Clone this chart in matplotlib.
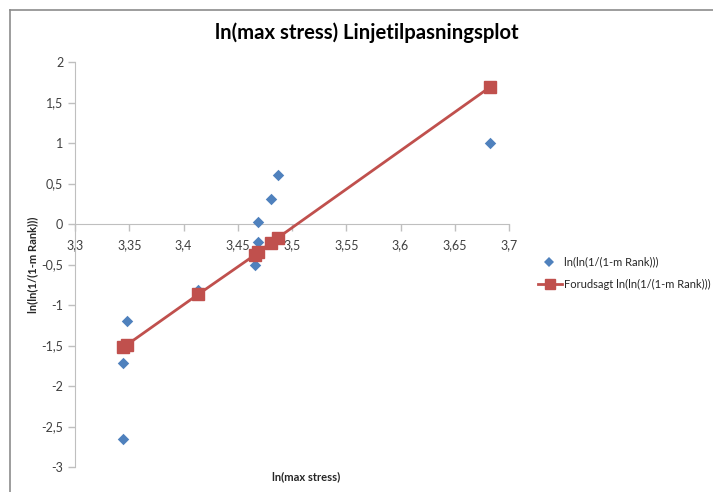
import matplotlib
matplotlib.use("Agg")
import matplotlib.pyplot as plt
from matplotlib.ticker import FuncFormatter, MultipleLocator
from matplotlib.lines import Line2D

plt.rcParams['font.family'] = ['Lato', 'DejaVu Sans']

# Observed data
x_obs = [3.6825, 3.487, 3.4806, 3.4687, 3.4687, 3.466, 3.4134, 3.348, 3.3442, 3.3442]
y_obs = [1.00, 0.60, 0.31, 0.03, -0.22, -0.51, -0.81, -1.20, -1.72, -2.65]
# Predicted (fitted line)
x_pred = [3.6825, 3.487, 3.4806, 3.4687, 3.466, 3.4134, 3.348, 3.3442]
y_pred = [1.69, -0.17, -0.23, -0.35, -0.38, -0.87, -1.49, -1.52]

title = "ln(max stress) Linjetilpasningsplot"
xlabel = "ln(max stress)"
ylabel = "ln(ln(1/(1-m Rank)))"
leg_obs = "ln(ln(1/(1-m Rank)))"
leg_pred = "Forudsagt ln(ln(1/(1-m Rank)))"

W, H = 713, 492
fig = plt.figure(figsize=(W/100, H/100), dpi=100)

# outer chart frame (top and left visible)
fig.add_artist(Line2D([10/W, 1.0], [1-10/H, 1-10/H], transform=fig.transFigure, color='#8c8c8c', lw=1.2))
fig.add_artist(Line2D([10/W, 10/W], [0, 1-10/H], transform=fig.transFigure, color='#8c8c8c', lw=1.2))

ax = fig.add_axes([75/W, 1-467/H, (509-75)/W, (467-62)/H])
ax.set_xlim(3.3, 3.7)
ax.set_ylim(-3, 2)

ax.scatter(x_obs, y_obs, marker='D', s=34, color='#4F81BD', zorder=3, linewidths=0)
ax.plot(x_pred, y_pred, color='#C0504D', lw=2, marker='s', ms=8, zorder=4)

axis_col = '#BFBFBF'
for s in ['top', 'right']:
    ax.spines[s].set_visible(False)
ax.spines['left'].set_color(axis_col)
ax.spines['bottom'].set_color(axis_col)
ax.spines['bottom'].set_position(('data', 0))

ax.xaxis.set_major_locator(MultipleLocator(0.05))
ax.yaxis.set_major_locator(MultipleLocator(0.5))
fmt = FuncFormatter(lambda v, p: ('%g' % round(v, 2)).replace('.', ','))
ax.xaxis.set_major_formatter(fmt)
ax.yaxis.set_major_formatter(fmt)
ax.tick_params(axis='both', colors=axis_col, labelcolor='#404040', labelsize=9, length=5, width=1)
ax.tick_params(axis='x', pad=6)

fig.text(367/W, 1-33/H, title, ha='center', va='center', fontsize=14.6, fontweight='bold', color='#000000')
fig.text(306/W, 1-477/H, xlabel, ha='center', va='center', fontsize=8, fontweight='bold', color='#262626')
fig.text(33/W, 1-265/H, ylabel, ha='center', va='center', rotation=90, fontsize=8, fontweight='bold', color='#262626')

# legend
fig.add_artist(Line2D([549/W], [1-262/H], transform=fig.transFigure, marker='D', ms=5, color='#4F81BD', lw=0, markeredgewidth=0))
fig.text(564/W, 1-262/H, leg_obs, ha='left', va='center', fontsize=8, color='#262626')
fig.add_artist(Line2D([538/W, 562/W], [1-284/H, 1-284/H], transform=fig.transFigure, color='#C0504D', lw=2, marker=None))
fig.add_artist(Line2D([550/W], [1-284/H], transform=fig.transFigure, marker='s', ms=7, color='#C0504D', lw=0))
fig.text(564/W, 1-284/H, leg_pred, ha='left', va='center', fontsize=8, color='#262626')

fig.savefig('out.png', dpi=100)
